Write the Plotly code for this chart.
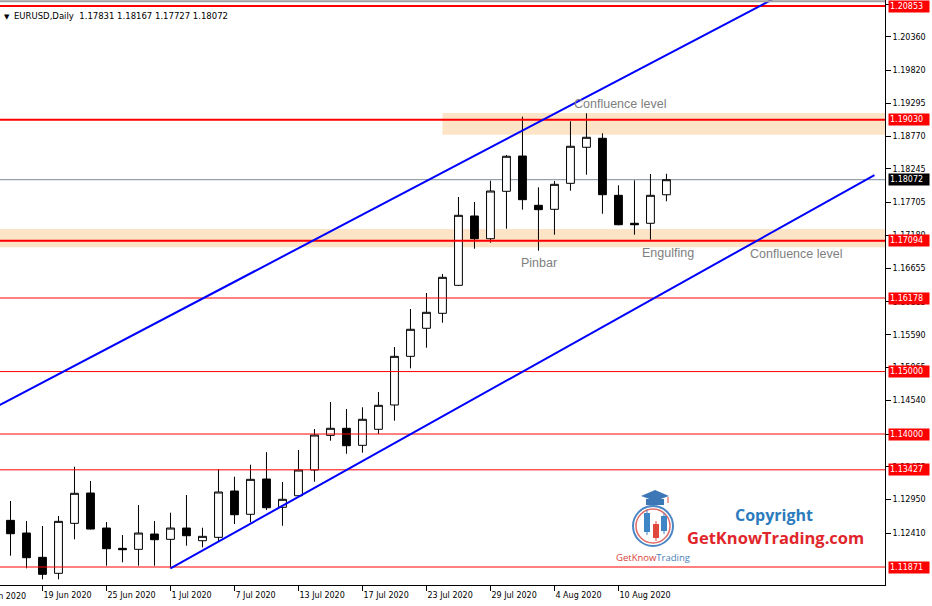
import pandas as pd
import plotly.graph_objects as go

# ---------------- data ----------------
dates = pd.bdate_range("2020-06-17", "2020-08-13")
date_labels = [d.strftime("%-d %b %Y") for d in dates]

opens = [1.12618, 1.12415, 1.12026, 1.11770, 1.12570, 1.13056, 1.12495, 1.12170, 1.12154, 1.12399,
         1.12314, 1.12495, 1.12292, 1.12346, 1.13088, 1.12715, 1.13280, 1.12827, 1.13012, 1.13424,
         1.13979, 1.14092, 1.13819, 1.14076, 1.14465, 1.15244, 1.15693, 1.15933, 1.16381, 1.17491,
         1.17127, 1.17886, 1.18451, 1.17662, 1.17598, 1.18014, 1.18591, 1.18735, 1.17822, 1.17374,
         1.17374, 1.17831]
highs = [1.12928, 1.12607, 1.12527, 1.12687, 1.13477, 1.13248, 1.12591, 1.12383, 1.12863, 1.12607,
         1.12740, 1.13024, 1.12500, 1.13440, 1.13317, 1.13509, 1.13710, 1.13232, 1.13744, 1.14080,
         1.14513, 1.14401, 1.14428, 1.14673, 1.15393, 1.16002, 1.16258, 1.16562, 1.17795, 1.17715,
         1.18056, 1.18467, 1.19081, 1.17950, 1.18051, 1.19007, 1.19135, 1.18815, 1.17982, 1.18062,
         1.18163, 1.18167]
lows = [1.12052, 1.11850, 1.11674, 1.11674, 1.12314, 1.12474, 1.11892, 1.11946, 1.11892, 1.11892,
        1.11850, 1.12212, 1.12186, 1.12287, 1.12559, 1.12586, 1.12783, 1.12532, 1.12990, 1.13237,
        1.13893, 1.13685, 1.13701, 1.14000, 1.14213, 1.15052, 1.15382, 1.15782, 1.16370, 1.16967,
        1.17063, 1.17287, 1.17592, 1.16935, 1.17191, 1.17896, 1.18152, 1.17528, 1.17342, 1.17191,
        1.17111, 1.17727]
closes = [1.12404, 1.12020, 1.11754, 1.12602, 1.13051, 1.12479, 1.12164, 1.12148, 1.12415, 1.12308,
          1.12495, 1.12372, 1.12362, 1.13072, 1.12708, 1.13275, 1.12820, 1.12955, 1.13424, 1.13984,
          1.14092, 1.13813, 1.14236, 1.14460, 1.15244, 1.15677, 1.15949, 1.16509, 1.17502, 1.17127,
          1.17891, 1.18447, 1.17752, 1.17592, 1.17998, 1.18607, 1.18751, 1.17832, 1.17351, 1.17351,
          1.17822, 1.18072]

xtick_dates = ["19 Jun 2020", "25 Jun 2020", "1 Jul 2020", "7 Jul 2020", "13 Jul 2020",
               "17 Jul 2020", "23 Jul 2020", "29 Jul 2020", "4 Aug 2020", "10 Aug 2020"]
first_cut_label = "15 Jun 2020"
ytick_vals = [1.20885, 1.20360, 1.19820, 1.19295, 1.18770, 1.18245, 1.17705, 1.17180, 1.16655,
              1.16115, 1.15590, 1.15065, 1.14540, 1.14000, 1.13475, 1.12950, 1.12410]

thick_levels = [1.20853, 1.19030, 1.17094]
thin_levels = [1.16178, 1.15000, 1.14000, 1.13427, 1.11871]
current_price = 1.18072

zone_top = (1.18792, 1.19140)       # price range of upper supply zone
zone_bottom = (1.16990, 1.17283)    # price range of lower zone
zone_top_start = "24 Jul 2020"

# trend lines: (date index, price) anchors
upper_line = [(-1, 1.14420), (60, 1.22624)]
lower_line = [(10, 1.11850), (54, 1.18146)]

header = "EURUSD,Daily  1.17831 1.18167 1.17727 1.18072"

# ---------------- figure ----------------
x = list(range(len(dates)))
W, H = 932, 606
ML, MR, MT, MB = 0, 47, 0, 21
PW, PH = W - ML - MR, H - MT - MB
FONT = "DejaVu Sans"

fig = go.Figure()
fig.add_trace(go.Candlestick(
    x=x, open=opens, high=highs, low=lows, close=closes,
    increasing=dict(line=dict(color="black", width=1), fillcolor="white"),
    decreasing=dict(line=dict(color="black", width=1), fillcolor="black"),
    whiskerwidth=0, hoverinfo="skip", showlegend=False,
))

def pp(px, py):
    return px / PW, 1 - py / PH

shapes = []
# zones
shapes.append(dict(type="rect", xref="x", yref="y", x0=date_labels.index(zone_top_start), x1=70,
                   y0=zone_top[0], y1=zone_top[1], fillcolor="#FDE4C6", line=dict(width=0), layer="below"))
shapes.append(dict(type="rect", xref="x", yref="y", x0=-5, x1=70,
                   y0=zone_bottom[0], y1=zone_bottom[1], fillcolor="#FDE4C6", line=dict(width=0), layer="below"))
# horizontal levels
for lv in thick_levels:
    shapes.append(dict(type="line", xref="paper", yref="y", x0=0, x1=1, y0=lv, y1=lv,
                       line=dict(color="#FF0000", width=2)))
for lv in thin_levels:
    shapes.append(dict(type="line", xref="paper", yref="y", x0=0, x1=1, y0=lv, y1=lv,
                       line=dict(color="#FF0000", width=1)))
shapes.append(dict(type="line", xref="paper", yref="y", x0=0, x1=1, y0=current_price, y1=current_price,
                   line=dict(color="#7A8B9C", width=1), layer="below"))
# trend lines
for ln in (upper_line, lower_line):
    shapes.append(dict(type="line", xref="x", yref="y", x0=ln[0][0], y0=ln[0][1], x1=ln[1][0], y1=ln[1][1],
                       line=dict(color="#0000FF", width=2)))
# top gray border
shapes.append(dict(type="line", xref="paper", yref="paper", x0=0, x1=1, y0=0.998, y1=0.998,
                   line=dict(color="#A0A0A0", width=2)))

# logo
cx, cy = 653, 526
x0, y0 = pp(cx - 20, cy - 20); x1, y1 = pp(cx + 20, cy + 20)
shapes.append(dict(type="circle", xref="paper", yref="paper", x0=x0, y0=y0, x1=x1, y1=y1,
                   line=dict(color="#4A86C5", width=2), fillcolor="white"))
x0, y0 = pp(cx - 17, cy - 17); x1, y1 = pp(cx + 17, cy + 17)
shapes.append(dict(type="circle", xref="paper", yref="paper", x0=x0, y0=y0, x1=x1, y1=y1,
                   line=dict(color="#E06B66", width=1.5)))
for bx, btop, bbot, col in [(647, 513, 532, "#3E86C6"), (656, 524, 538, "#E0483E"), (664, 516, 531, "#3E86C6")]:
    x0, y0 = pp(bx - 3, bbot); x1, y1 = pp(bx + 3, btop)
    shapes.append(dict(type="rect", xref="paper", yref="paper", x0=x0, y0=y0, x1=x1, y1=y1,
                       fillcolor=col, line=dict(width=0)))
    x0, y0 = pp(bx, bbot + 3); x1, y1 = pp(bx, btop - 3)
    shapes.append(dict(type="line", xref="paper", yref="paper", x0=x0, y0=y0, x1=x1, y1=y1,
                       line=dict(color=col, width=1)))
# cap
pts = [(641, 496), (655, 490), (669, 496), (655, 501)]
path = "M " + " L ".join(f"{pp(a, b)[0]},{pp(a, b)[1]}" for a, b in pts) + " Z"
shapes.append(dict(type="path", xref="paper", yref="paper", path=path, fillcolor="#3D77B6", line=dict(width=0)))
pts = [(646, 499), (664, 499), (664, 505), (646, 505)]
path = "M " + " L ".join(f"{pp(a, b)[0]},{pp(a, b)[1]}" for a, b in pts) + " Z"
shapes.append(dict(type="path", xref="paper", yref="paper", path=path, fillcolor="#3D77B6", line=dict(width=0)))
x0, y0 = pp(668, 497); x1, y1 = pp(668, 503)
shapes.append(dict(type="line", xref="paper", yref="paper", x0=x0, y0=y0, x1=x1, y1=y1,
                   line=dict(color="#E0483E", width=1)))

annotations = []
# price labels
for lv in thick_levels + thin_levels:
    annotations.append(dict(xref="paper", yref="y", x=1, y=lv, xanchor="left", yanchor="middle",
                            xshift=3, text=f"{lv:.5f}", showarrow=False, bgcolor="#FF0000",
                            font=dict(family=FONT, size=8, color="white"), width=38, height=9,
                            align="left", borderpad=1))
annotations.append(dict(xref="paper", yref="y", x=1, y=current_price, xanchor="left", yanchor="middle",
                        xshift=3, text=f"{current_price:.5f}", showarrow=False, bgcolor="#000000",
                        font=dict(family=FONT, size=8, color="white"), width=38, height=9,
                        align="left", borderpad=1))
# header
annotations.append(dict(xref="paper", yref="paper", x=0, y=1, xanchor="left", yanchor="top",
                        xshift=2, yshift=-11, text="▼", showarrow=False,
                        font=dict(family=FONT, size=7, color="black")))
annotations.append(dict(xref="paper", yref="paper", x=0, y=1, xanchor="left", yanchor="top",
                        xshift=12, yshift=-9, text=header, showarrow=False,
                        font=dict(family=FONT, size=8.5, color="black")))
# left cut-off date label (its tick lies left of the visible area)
annotations.append(dict(xref="paper", yref="paper", x=0, y=0, xanchor="left", yanchor="top",
                        xshift=-24, yshift=-5, text=first_cut_label, showarrow=False,
                        font=dict(family=FONT, size=8, color="black")))
# text objects
gray = dict(family="Liberation Sans", size=12.5, color="#808080")
for txt, xi, yp in [("Confluence level", 35.1, 1.19284), ("Pinbar", 31.78, 1.16738),
                    ("Engulfing", 39.34, 1.16898), ("Confluence level", 46.1, 1.16882)]:
    annotations.append(dict(xref="x", yref="y", x=xi, y=yp, xanchor="left", yanchor="middle",
                            text=txt, showarrow=False, font=gray))
# logo texts
ax, ay = pp(774, 515)
annotations.append(dict(xref="paper", yref="paper", x=ax, y=ay, xanchor="center", yanchor="middle",
                        text="<b>Copyright</b>", showarrow=False,
                        font=dict(family="Open Sans", size=16, color="#2B7BBE")))
ax, ay = pp(775, 537)
annotations.append(dict(xref="paper", yref="paper", x=ax, y=ay, xanchor="center", yanchor="middle",
                        text="<b>GetKnowTrading.com</b>", showarrow=False,
                        font=dict(family="Open Sans", size=16.5, color="#E0262B")))
ax, ay = pp(653, 557)
annotations.append(dict(xref="paper", yref="paper", x=ax, y=ay, xanchor="center", yanchor="middle",
                        text="<span style='color:#D9443A'>GetKnow</span><span style='color:#4A7FB5'>Trading</span>",
                        showarrow=False, font=dict(family="Open Sans", size=9.5)))

fig.update_layout(
    width=W, height=H, margin=dict(l=ML, r=MR, t=MT, b=MB, autoexpand=False),
    paper_bgcolor="white", plot_bgcolor="white", showlegend=False,
    shapes=shapes, annotations=annotations,
    xaxis=dict(range=[-0.656, 54.66], showgrid=False, zeroline=False, showline=True,
               linecolor="black", linewidth=1, ticks="outside", ticklen=5, tickcolor="black",
               tickvals=[date_labels.index(d) for d in xtick_dates], ticktext=xtick_dates,
               ticklabelposition="outside right", ticklabelstandoff=2,
               tickfont=dict(family=FONT, size=8, color="black"), rangeslider=dict(visible=False),
               fixedrange=True),
    yaxis=dict(range=[1.11583, 1.20949], side="right", showgrid=False, zeroline=False, showline=True,
               linecolor="black", linewidth=1, ticks="outside", ticklen=5, tickcolor="black",
               tickvals=ytick_vals, ticktext=[f"{v:.5f}" for v in ytick_vals],
               tickfont=dict(family=FONT, size=8, color="black"), fixedrange=True),
)

fig.write_html("out.html", config={"displayModeBar": False},
               post_script="document.body.style.margin='0';document.body.style.overflow='hidden';")
